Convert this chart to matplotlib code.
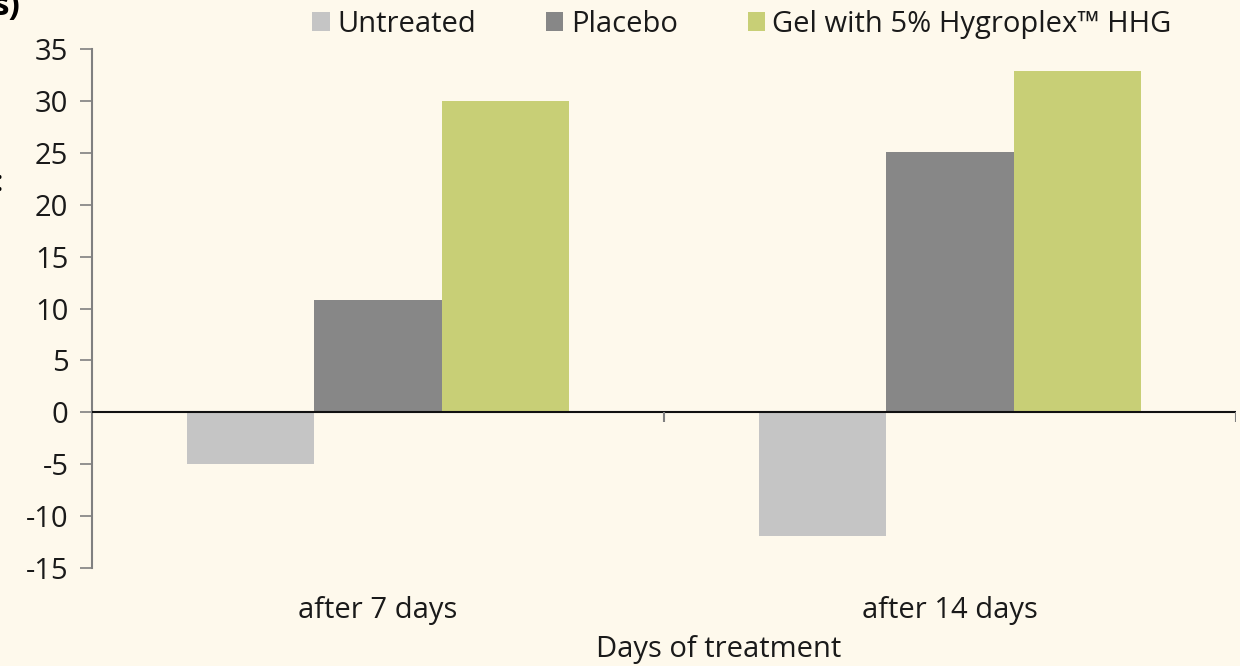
import numpy as np
import matplotlib.pyplot as plt

plt.rcParams['font.family'] = ['Open Sans', 'DejaVu Sans']
plt.rcParams['axes.unicode_minus'] = False

categories = ['after 7 days', 'after 14 days']
series = ['Untreated', 'Placebo', 'Gel with 5% Hygroplex™ HHG']
untreated = [-5.0, -11.9]
placebo = [10.8, 25.1]
gel = [30.0, 32.9]
colors = ['#c5c5c5', '#878787', '#c8cf76']
bg = '#fef9ec'

fig = plt.figure(figsize=(12.4, 6.66), dpi=100, facecolor=bg)
ax = fig.add_axes([92 / 1240, 1 - 568 / 666, (1236 - 92) / 1240, (568 - 49) / 666])
ax.set_facecolor(bg)

x = np.arange(len(categories))
w = 2 / 9
for i, (name, vals) in enumerate(zip(series, [untreated, placebo, gel])):
    ax.bar(x + (i - 1) * w, vals, w, color=colors[i], label=name, zorder=2)

ax.set_xlim(-0.5, 1.5)
ax.set_ylim(-15, 35)
ax.set_yticks(np.arange(-15, 36, 5))
ax.set_xticks(x)
ax.set_xticklabels(categories)

for s in ['top', 'right', 'bottom']:
    ax.spines[s].set_visible(False)
ax.spines['left'].set_color('#808080')
ax.spines['left'].set_linewidth(1.5)
ax.tick_params(axis='y', length=9, width=1.2, color='#808080', labelsize=21, pad=8, labelcolor='#1a1a1a')
ax.tick_params(axis='x', length=0, labelsize=21, pad=20, labelcolor='#1a1a1a')

ax.axhline(0, color='#111111', lw=1.5, zorder=3)
ax.vlines(x + 0.5, -0.9, 0, color='#808080', lw=1.5, zorder=3)

ax.set_xlabel('Days of treatment', fontsize=21, color='#1a1a1a')
ax.xaxis.set_label_coords(0.548, -0.13)

fig.legend(loc='upper center', bbox_to_anchor=(742 / 1240, 1.025), ncol=3, frameon=False,
           fontsize=21, handlelength=0.6, handleheight=0.6, handletextpad=0.25,
           columnspacing=2.4, labelcolor='#1a1a1a')

fig.text(-0.006, 0.99, 's)', fontsize=24, fontweight='bold', va='center', ha='left')
fig.text(-0.003, 0.725, ':', fontsize=21, va='center', ha='left')

fig.savefig('out.png', dpi=100, facecolor=bg)
